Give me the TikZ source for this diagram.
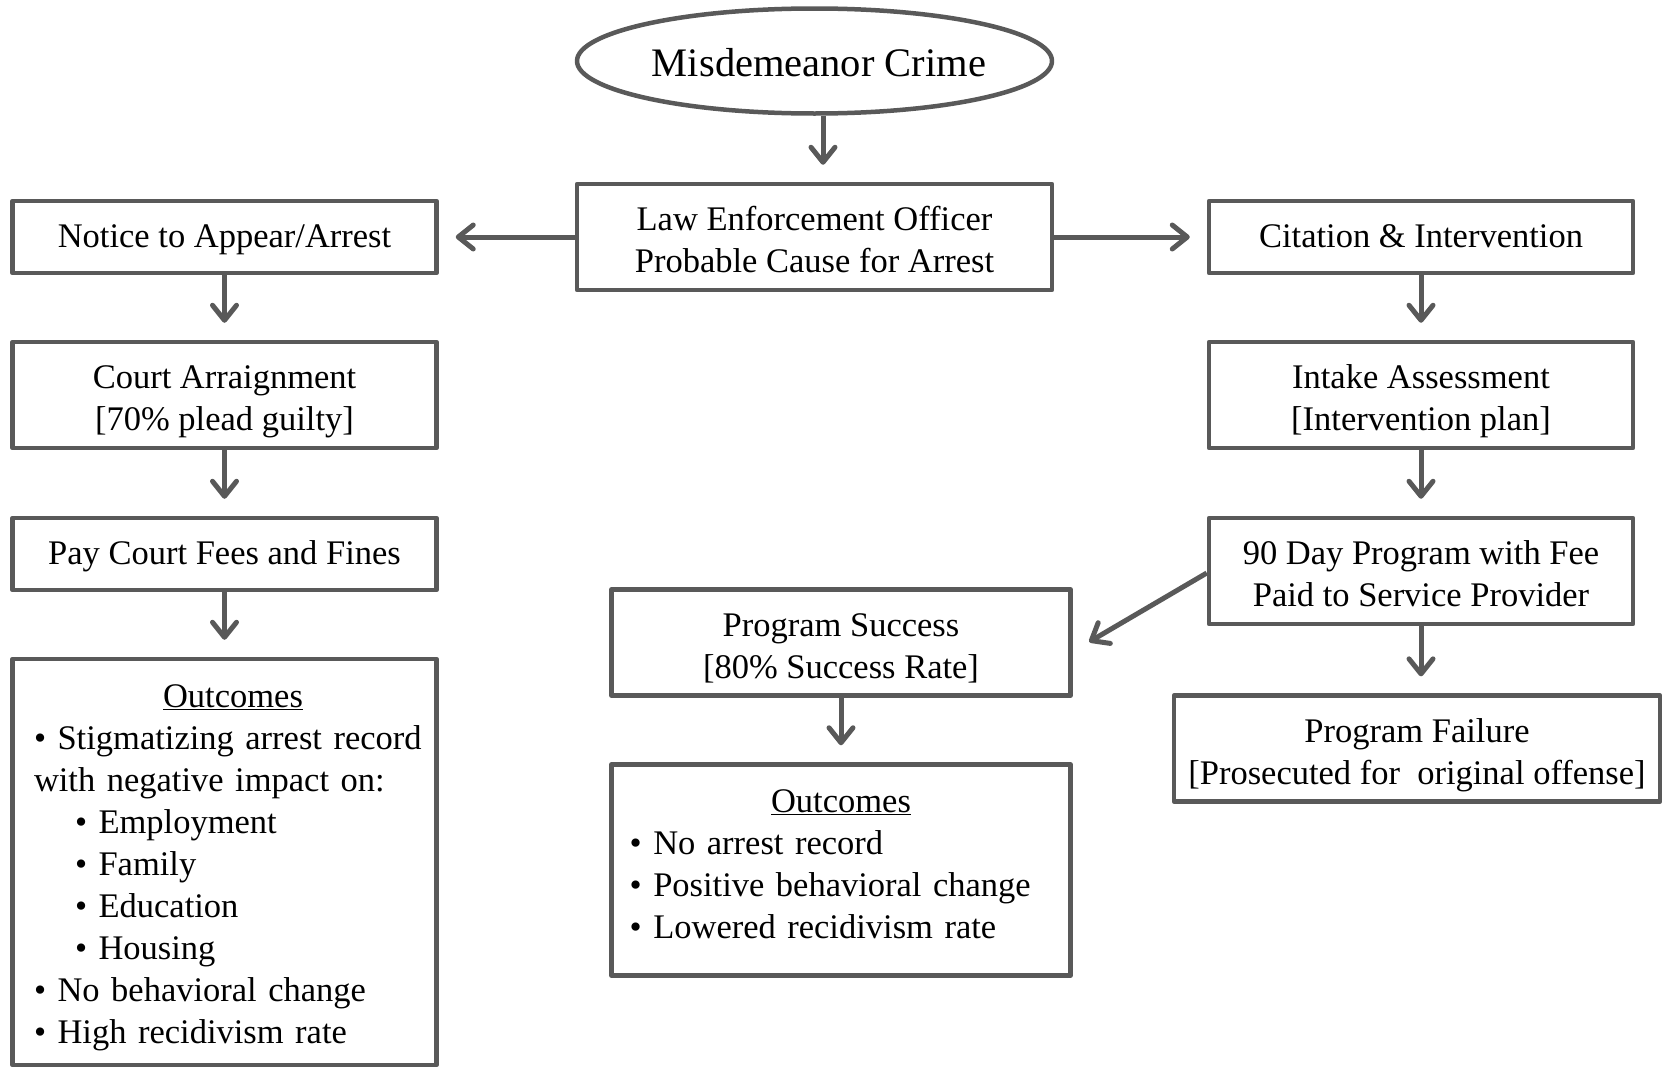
\documentclass[tikz,border=0pt]{standalone}
\usepackage{fontspec}
\setmainfont{Liberation Serif}
\usetikzlibrary{arrows.meta,shapes.geometric,calc}
\definecolor{linec}{HTML}{595959}
\newcommand\lstrut{\rule[-8pt]{0pt}{37pt}}
\newcommand\tstrut{\rule{0pt}{37pt}}
\newcommand\bstrut{\rule[-8pt]{0pt}{8pt}}
\begin{document}
\begin{tikzpicture}[x=1pt,y=-1pt,
  plainbox/.style={draw=linec, line width=4.5pt, line join=round, fill=white, inner sep=0pt, align=center,
    font=\fontsize{34.5}{42}\selectfont},
  box/.style={plainbox, execute at begin node=\lstrut, execute at end node=\lstrut},
  arr/.style={draw=linec, line width=5pt,
    -{Straight Barb[length=15pt,width=24pt,line cap=round,line join=round]}, shorten >=17pt},
  txt/.style={inner sep=0pt, align=left, font=\fontsize{34.5}{42}\selectfont}]
\useasboundingbox (0,0) rectangle (1665,1068);
% top
\node[plainbox, ellipse, minimum width=475pt, minimum height=105pt,
  font=\fontsize{40.5}{48}\selectfont] (crime) at (814.5,61)
  {\makebox[0pt]{\hspace*{9pt}\raisebox{-2pt}[\height][\depth]{Misdemeanor Crime}}};
\node[plainbox, minimum width=475pt, minimum height=106pt] (law) at (814.5,237)
  {\tstrut Law Enforcement Officer\\Probable Cause for Arrest\bstrut};
% left column
\node[box, minimum width=424pt, minimum height=72pt] (notice) at (224.5,237) {Notice to Appear/Arrest};
\node[plainbox, minimum width=424pt, minimum height=106pt] (court) at (224.5,395)
  {\tstrut Court Arraignment\\{[70\% plead guilty]}\bstrut};
\node[box, minimum width=424pt, minimum height=72pt] (pay) at (224.5,554) {Pay Court Fees and Fines};
\node[plainbox, minimum width=424pt, minimum height=406pt] (outl) at (224.5,862) {};
\node[txt, text width=396pt] (outlt) at (232,868) {%
\hfill\hspace*{2pt}\underline{Outcomes}\hfill\mbox{}\\
• Stigmatizing arrest record\\
with negative impact on:\\
\hspace*{41pt}• Employment\\
\hspace*{41pt}• Family\\
\hspace*{41pt}• Education\\
\hspace*{41pt}• Housing\\
• No behavioral change\\
• High recidivism rate};
% right column
\node[box, minimum width=424pt, minimum height=72pt] (cite) at (1421,237) {Citation \& Intervention};
\node[plainbox, minimum width=424pt, minimum height=106pt] (intake) at (1421,395)
  {\tstrut Intake Assessment\\{[Intervention plan]}\bstrut};
\node[plainbox, minimum width=424pt, minimum height=106pt] (ninety) at (1421,571)
  {\tstrut 90 Day Program with Fee\\Paid to Service Provider\bstrut};
\node[plainbox, minimum width=486pt, minimum height=106pt] (fail) at (1417,748.6)
  {\tstrut Program Failure\\{[Prosecuted for~ original offense]}\bstrut};
% middle
\node[plainbox, minimum width=459pt, minimum height=106pt] (succ) at (841,642.5)
  {\tstrut Program Success\\{[80\% Success Rate]}\bstrut};
\node[plainbox, minimum width=459pt, minimum height=211pt] (outm) at (841,870) {};
\node[txt, text width=412pt] (outmt) at (835.7,864) {%
\hfill\hspace*{10.6pt}\underline{Outcomes}\hfill\mbox{}\\
• No arrest record\\
• Positive behavioral change\\
• Lowered recidivism rate};
% connectors
\draw[arr] ([xshift=8.5pt]crime.south) -- ([xshift=8.5pt]law.north);
\draw[arr] (law.west) -- (notice.east);
\draw[arr] (law.east) -- (cite.west);
\draw[arr] (notice) -- (court);
\draw[arr] (court) -- (pay);
\draw[arr] (pay) -- (outl);
\draw[arr] (cite) -- (intake);
\draw[arr] (intake) -- (ninety);
\draw[arr] (ninety.south) -- (ninety.south |- fail.north);
\draw[arr, shorten >=19pt] ($(ninety.west)+(0,2)$) -- ($(succ.east)+(0,9)$);
\draw[arr] (succ) -- (outm);
\end{tikzpicture}
\end{document}
